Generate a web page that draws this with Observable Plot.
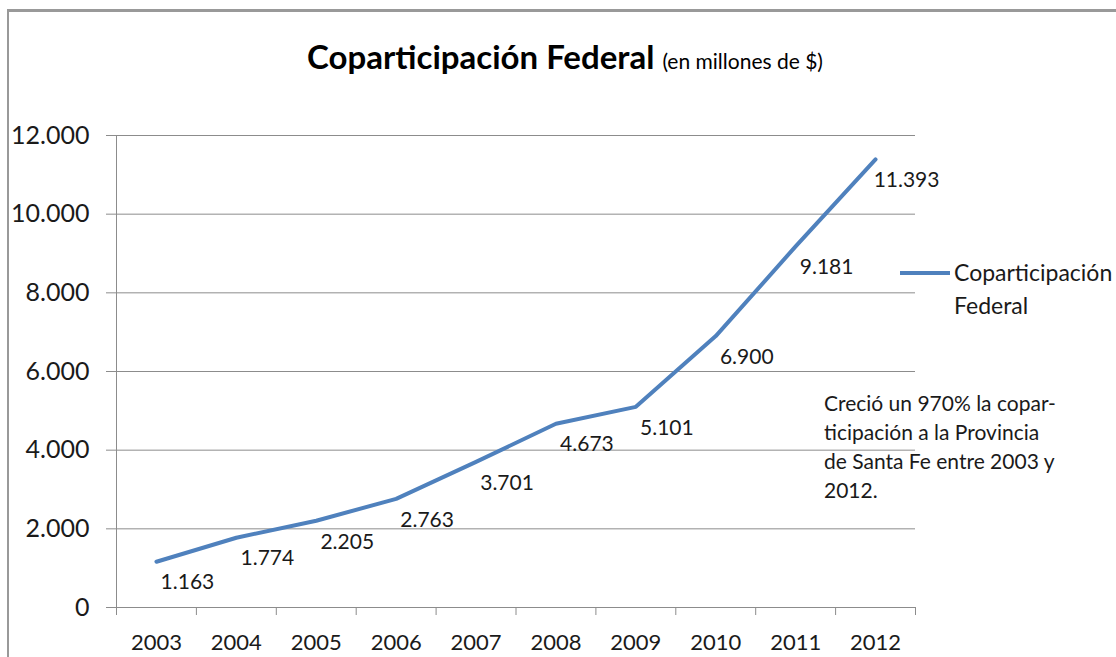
<!DOCTYPE html>
<html>
<head>
<meta charset="utf-8">
<script src="https://cdn.jsdelivr.net/npm/d3@7"></script>
<script src="https://cdn.jsdelivr.net/npm/@observablehq/plot@0.6"></script>
<style>
  html, body { margin: 0; padding: 0; background: #fff; }
  #wrap { position: relative; width: 1116px; height: 657px; overflow: hidden; font-family: Lato, "Open Sans", sans-serif; color: #1a1a1a; }
  #frame { position: absolute; left: 7px; top: 9px; width: 1200px; height: 700px; border-top: 3px solid #999; border-left: 2px solid #999; }
  .abs { position: absolute; white-space: nowrap; }
  #title { left: 307px; top: 36px; font-size: 33px; font-weight: bold; color: #000; }
  #title span { font-size: 21px; font-weight: normal; }
  #legend-line { left: 900px; top: 271px; width: 50px; height: 4px; background: #4f81bd; }
  #legend-text { left: 954px; top: 256px; font-size: 23px; line-height: 33px; }
  #note { left: 824px; top: 388px; font-size: 21px; line-height: 29px; }
</style>
</head>
<body>
<div id="wrap">
  <div id="frame"></div>
  <div id="chart"></div>
  <div class="abs" id="title">Coparticipación Federal <span>(en millones de $)</span></div>
  <div class="abs" id="legend-line"></div>
  <div class="abs" id="legend-text">Coparticipación<br>Federal</div>
  <div class="abs" id="note">Creció un 970% la copar-<br>ticipación a la Provincia<br>de Santa Fe entre 2003 y<br>2012.</div>
</div>
<script>
const years = [2003, 2004, 2005, 2006, 2007, 2008, 2009, 2010, 2011, 2012];
const values = [1163, 1774, 2205, 2763, 3701, 4673, 5101, 6900, 9181, 11393];
const yTicks = [0, 2000, 4000, 6000, 8000, 10000, 12000];

const locale = d3.formatLocale({decimal: ",", thousands: ".", grouping: [3], currency: ["$", ""]});
const fmt = locale.format(",d");

const data = years.map((year, i) => ({year, value: values[i]}));
const boundaries = [...years.map(y => y - 0.5), years[years.length - 1] + 0.5];

const chart = Plot.plot({
  width: 1116,
  height: 657,
  marginLeft: 116,
  marginRight: 201,
  marginTop: 135,
  marginBottom: 50,
  style: {fontFamily: "Lato, 'Open Sans', sans-serif", color: "#1a1a1a", background: "transparent"},
  x: {type: "linear", domain: [boundaries[0], boundaries[boundaries.length - 1]]},
  y: {domain: [0, 12000]},
  marks: [
    Plot.gridY(yTicks, {stroke: "#8c8c8c", strokeOpacity: 1, strokeWidth: 1}),
    Plot.axisY({ticks: yTicks, tickSize: 10, tickPadding: 17, tickFormat: fmt, fontSize: 25, stroke: "#8c8c8c", strokeOpacity: 1, label: null}),
    Plot.axisX({ticks: boundaries, tickSize: 8, tickFormat: () => "", stroke: "#8c8c8c", strokeOpacity: 1, label: null}),
    Plot.axisX({ticks: years, tickSize: 0, tickPadding: 27, tickFormat: d => String(d), fontSize: 22, label: null}),
    Plot.ruleX([boundaries[0]], {stroke: "#8c8c8c"}),
    Plot.ruleY([0], {stroke: "#8c8c8c"}),
    Plot.line(data, {x: "year", y: "value", stroke: "#4f81bd", strokeWidth: 4, strokeLinejoin: "round", strokeLinecap: "round"}),
    Plot.text(data, {x: "year", y: "value", text: d => fmt(d.value), dx: 31, dy: 21, fontSize: 21, fill: "#1a1a1a"})
  ]
});
document.getElementById("chart").appendChild(chart);
</script>
</body>
</html>
